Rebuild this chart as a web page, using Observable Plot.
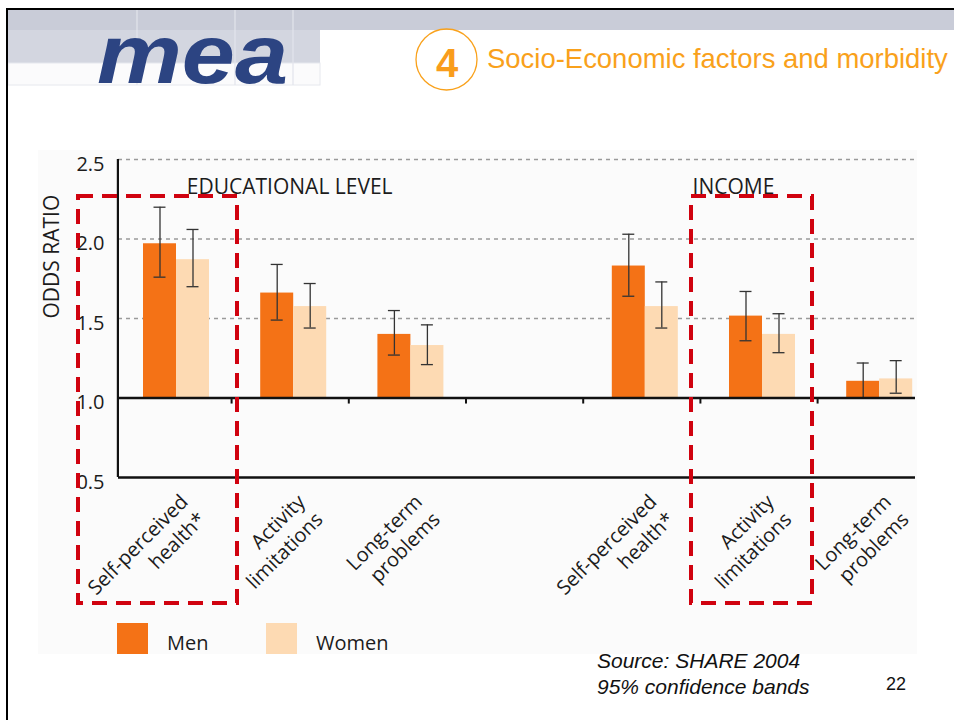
<!DOCTYPE html>
<html>
<head>
<meta charset="utf-8">
<script src="https://cdn.jsdelivr.net/npm/d3@7"></script>
<script src="https://cdn.jsdelivr.net/npm/@observablehq/plot@0.6"></script>
<style>
  html, body { margin: 0; padding: 0; background: #fff; }
  #page { position: relative; width: 954px; height: 720px; overflow: hidden; background: #fff; }
  #border { position: absolute; left: 6px; top: 8px; width: 980px; height: 740px; border-top: 2px solid #000; border-left: 2px solid #000; }
  #chartbg { position: absolute; left: 38px; top: 150px; width: 879px; height: 504px; background: #fbfbfb; }
  #header { position: absolute; left: 0; top: 0; }
  #chart { position: absolute; left: 0; top: 140px; }
  #footer { position: absolute; left: 0; top: 0; pointer-events: none; }
</style>
</head>
<body>
<div id="page">
  <div id="chartbg"></div>
  <svg id="header" width="954" height="100" xmlns="http://www.w3.org/2000/svg">
    <rect x="8" y="10" width="946" height="20" fill="#C9CCD8"/>
    <rect x="8" y="30" width="312" height="33" fill="#D3D6E0"/>
    <rect x="8" y="63" width="312" height="22" fill="#FBFBFC" stroke="#E6E8EE" stroke-width="1"/>
    <line x1="137" y1="10" x2="137" y2="85" stroke="#E3E5EC" stroke-width="1.2"/>
    <line x1="235" y1="10" x2="235" y2="85" stroke="#E3E5EC" stroke-width="1.2"/>
    <line x1="293" y1="10" x2="293" y2="85" stroke="#E3E5EC" stroke-width="1.2"/>
    <text x="97" y="83" font-family="Liberation Sans, Arial, sans-serif" font-weight="bold" font-style="italic" font-size="83" fill="#2C4482" textLength="191" lengthAdjust="spacingAndGlyphs">mea</text>
    <circle cx="446.5" cy="59.5" r="30.5" fill="none" stroke="#F9A11B" stroke-width="1.3"/>
    <text x="447" y="77" text-anchor="middle" font-family="Liberation Sans, Arial, sans-serif" font-weight="bold" font-size="40" fill="#F99D1C">4</text>
    <text id="title" x="487" y="68" font-family="Liberation Sans, Arial, sans-serif" font-size="28" fill="#F9A11B">Socio-Economic factors and morbidity</text>
  </svg>
  <div id="chart"></div>
  <svg id="footer" width="954" height="720" xmlns="http://www.w3.org/2000/svg"></svg>
  <div id="border"></div>
</div>
<script>
// ---------- data ----------
const groups = ["EDUCATIONAL LEVEL", "INCOME"];
const outcomes = ["Self-perceived\nhealth*", "Activity\nlimitations", "Long-term\nproblems"];
const sexes = ["Men", "Women"];
const sexColors = ["#F47216", "#FDDAB3"];
// order: EDU (SPH, AL, LTP), INCOME (SPH, AL, LTP)
const menOR     = [1.97, 1.66, 1.40, 1.83, 1.515, 1.105];
const menLow    = [1.76, 1.49, 1.27, 1.64, 1.36, 1.00];
const menHigh   = [2.20, 1.84, 1.55, 2.03, 1.67, 1.22];
const womenOR   = [1.87, 1.575, 1.33, 1.575, 1.40, 1.12];
const womenLow  = [1.70, 1.44, 1.21, 1.44, 1.285, 1.03];
const womenHigh = [2.06, 1.72, 1.46, 1.73, 1.53, 1.235];
const yTicks = [0.5, 1.0, 1.5, 2.0, 2.5];
const gridTicks = [1.5, 2.0, 2.5];
const yLabel = "ODDS RATIO";
const sourceLines = ["Source: SHARE 2004", "95% confidence bands"];
const pageNumber = "22";

// fit title width to the slide's title area
(function fitTitle() {
  const t = document.getElementById("title");
  const w = t.getComputedTextLength();
  if (w > 0) t.setAttribute("font-size", (28 * 461 / w).toFixed(2));
})();

// ---------- build table ----------
const SPACER = "spacer";
const keys = [];
const rows = [];
groups.forEach((g, gi) => {
  outcomes.forEach((o, oi) => {
    const i = gi * outcomes.length + oi;
    const key = g + "|" + o;
    keys.push(key);
    rows.push({key, group: g, outcome: o, sex: "Men", or: menOR[i], lo: menLow[i], hi: menHigh[i]});
    rows.push({key, group: g, outcome: o, sex: "Women", or: womenOR[i], lo: womenLow[i], hi: womenHigh[i]});
  });
  if (gi === 0) keys.push(SPACER);
});
const men = rows.filter(d => d.sex === "Men");
const women = rows.filter(d => d.sex === "Women");
const labelRows = men;
const realKeys = keys.filter(k => k !== SPACER);

const xRange = [117.4, 937.8];
const step = (xRange[1] - xRange[0]) / keys.length;
const half = 33; // half bandwidth
const txt = "#1c1c1c";
const font = "'Open Sans', 'Noto Sans', sans-serif";

const plot = Plot.plot({
  width: 954,
  height: 480,
  marginLeft: 118,
  marginRight: 39,
  marginTop: 19,
  marginBottom: 143,
  style: {fontFamily: font, fontSize: "20px", color: txt, background: "transparent", overflow: "visible"},
  x: {domain: keys, range: xRange, paddingInner: 0.437, paddingOuter: 0.2185, round: false, axis: null},
  y: {domain: [0.5, 2.5], axis: null},
  marks: [
    Plot.ruleY(gridTicks, {stroke: "#9a9a9a", strokeWidth: 1.3, strokeDasharray: "4,4"}),
    Plot.barY(men, {x: "key", y1: 1, y2: "or", fill: sexColors[0], insetRight: half}),
    Plot.barY(women, {x: "key", y1: 1, y2: "or", fill: sexColors[1], insetLeft: half}),
    // error bars
    Plot.ruleX(men, {x: "key", y1: "lo", y2: "hi", dx: -half / 2, stroke: "#333", strokeWidth: 1.3}),
    Plot.ruleX(women, {x: "key", y1: "lo", y2: "hi", dx: half / 2, stroke: "#333", strokeWidth: 1.3}),
    Plot.tickY(men, {x: "key", y: "lo", insetLeft: 10.5, insetRight: 43.5, stroke: "#333", strokeWidth: 1.3}),
    Plot.tickY(men, {x: "key", y: "hi", insetLeft: 10.5, insetRight: 43.5, stroke: "#333", strokeWidth: 1.3}),
    Plot.tickY(women, {x: "key", y: "lo", insetLeft: 43.5, insetRight: 10.5, stroke: "#333", strokeWidth: 1.3}),
    Plot.tickY(women, {x: "key", y: "hi", insetLeft: 43.5, insetRight: 10.5, stroke: "#333", strokeWidth: 1.3}),
    // axes lines
    Plot.ruleY([1.0], {stroke: "#111", strokeWidth: 2.4}),
    Plot.ruleY([0.5], {stroke: "#111", strokeWidth: 2.4}),
    Plot.ruleX([keys[0]], {x: d => d, y1: 0.5, y2: 2.5, dx: -step / 2, stroke: "#111", strokeWidth: 2.2}),
    Plot.ruleX(keys.slice(1), {x: d => d, y1: 1.0, y2: 0.962, dx: -step / 2 - 3.5, stroke: "#111", strokeWidth: 2}),
    // y tick labels
    Plot.text(yTicks, {y: d => d, text: d => d.toFixed(1), frameAnchor: "left", textAnchor: "end", dx: -14, dy: 5, fill: txt, fontSize: 20}),
    Plot.text([yLabel], {frameAnchor: "left", rotate: -90, dx: -66, text: d => d, fill: txt, fontSize: 21}),
    // group labels
    Plot.text([groups[0]], {x: () => realKeys[1], text: d => d, frameAnchor: "top", lineAnchor: "middle", dy: 28, dx: -4, fill: txt, fontSize: 21}),
    Plot.text([groups[1]], {x: () => realKeys[4], text: d => d, frameAnchor: "top", lineAnchor: "middle", dy: 28, dx: -29, fill: txt, fontSize: 21}),
    // category labels
    Plot.text(labelRows, {x: "key", text: "outcome", frameAnchor: "bottom", rotate: -45, textAnchor: "end", lineAnchor: "top", dx: 0, dy: 13, fill: txt, fontSize: 20, lineHeight: 1.25})
  ]
});
document.getElementById("chart").appendChild(plot);

// highlight boxes (derived from the x scale bands)
const xs = plot.scale("x");
const svg = d3.select(plot);
const highlights = [
  {key: realKeys[0], padLeft: 39.4, padRight: 2.4},
  {key: realKeys[4], padLeft: 12.4, padRight: -8.6}
];
const boxTop = 56, boxBottom = 463;
highlights.forEach(h => {
  const center = xs.apply(h.key) + xs.bandwidth / 2;
  const b0 = center - step / 2;
  const x0 = b0 - h.padLeft, x1 = b0 + step + h.padRight;
  svg.append("rect")
    .attr("x", x0).attr("y", boxTop)
    .attr("width", x1 - x0).attr("height", boxBottom - boxTop)
    .attr("fill", "none").attr("stroke", "#D0020F").attr("stroke-width", 4)
    .attr("stroke-dasharray", "15,9");
});

// footer: legend + source
const foot = d3.select("#footer");
const legendX = [117, 266];
sexes.forEach((s, i) => {
  foot.append("rect").attr("x", legendX[i]).attr("y", 623).attr("width", 31).attr("height", 31).attr("fill", sexColors[i]);
  foot.append("text").attr("x", legendX[i] + 50).attr("y", 650)
    .attr("font-family", font).attr("font-size", 20).attr("fill", txt).text(s);
});
sourceLines.forEach((l, i) => {
  foot.append("text").attr("x", 597).attr("y", 668 + i * 26)
    .attr("font-family", "Liberation Sans, Arial, sans-serif").attr("font-style", "italic").attr("font-size", 21)
    .attr("fill", "#111").text(l);
});
foot.append("text").attr("x", 886).attr("y", 690)
  .attr("font-family", "Liberation Sans, Arial, sans-serif").attr("font-size", 18).attr("fill", "#111").text(pageNumber);
</script>
</body>
</html>
